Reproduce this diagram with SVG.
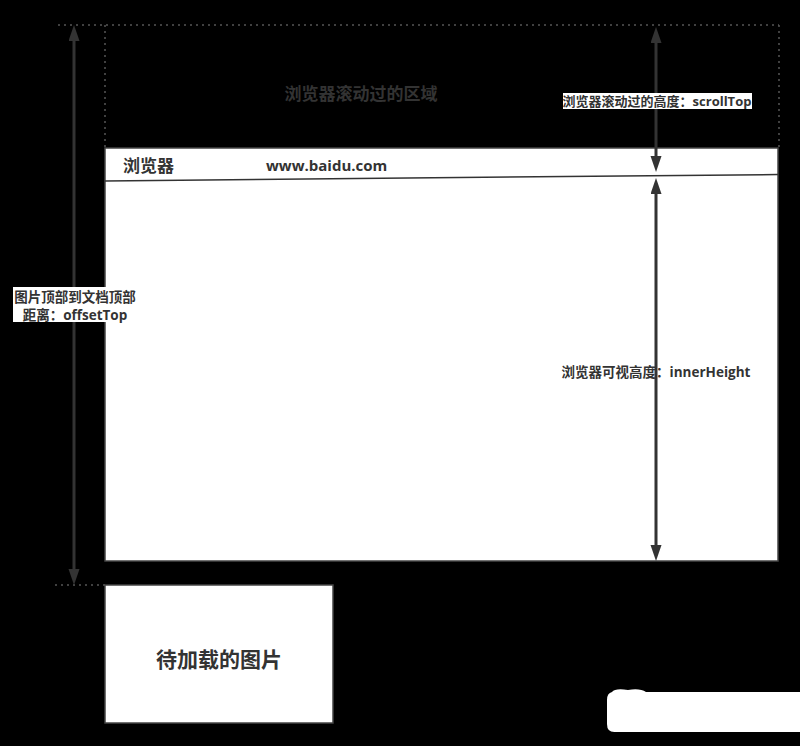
<svg xmlns="http://www.w3.org/2000/svg" width="800" height="746" viewBox="0 0 800 746">
<defs>
<style>
.t{font-family:"Open Sans","Noto Sans CJK SC",sans-serif;font-weight:bold;fill:#333}
.box{fill:#fff;stroke:#444;stroke-width:1.5}
.dot{fill:none;stroke:#555;stroke-width:1.5;stroke-dasharray:2 4}
.arr{stroke:#333;stroke-width:3;fill:none;marker-start:url(#ah);marker-end:url(#ah)}
</style>
<marker id="ah" markerUnits="userSpaceOnUse" markerWidth="18" markerHeight="12" refX="5" refY="5.5" orient="auto-start-reverse" viewBox="0 0 18 12">
<path d="M0,0 L16,5.5 L0,11 Z" fill="#333"/>
</marker>
</defs>
<rect width="800" height="746" fill="#000"/>
<g id="scrolled-area">
<path class="dot" d="M58,25 H779 M105,25 V148 M779,25 V148"/>
<text class="t" x="361" y="100" font-size="17" text-anchor="middle">浏览器滚动过的区域</text>
</g>
<g id="browser">
<rect class="box" x="105" y="148" width="673" height="413"/>
<line x1="105" y1="181" x2="778" y2="174.5" stroke="#333" stroke-width="1.5"/>
<text class="t" x="123" y="172" font-size="17">浏览器</text>
<text class="t" x="266" y="171" font-size="15">www.baidu.com</text>
</g>
<g id="image">
<rect class="box" x="105" y="585" width="228" height="138"/>
<text class="t" x="219" y="667" font-size="21" text-anchor="middle">待加载的图片</text>
</g>
<g id="connectors">
<path class="dot" d="M55,585 H105"/>
<line class="arr" x1="74" y1="36" x2="74" y2="574"/>
<line class="arr" x1="656" y1="38" x2="656" y2="161"/>
<line class="arr" x1="656" y1="189" x2="656" y2="550"/>
</g>
<g id="label-offsetTop">
<rect x="13" y="287" width="94" height="35" fill="#fff"/>
<text class="t" font-size="13.5" text-anchor="middle"><tspan x="75" y="302">图片顶部到文档顶部</tspan><tspan x="75" y="320">距离：offsetTop</tspan></text>
</g>
<g id="label-scrollTop">
<rect x="563" y="93" width="189" height="16" fill="#fff"/>
<text class="t" x="657" y="106" font-size="13" text-anchor="middle">浏览器滚动过的高度：scrollTop</text>
</g>
<g id="label-innerHeight">
<text class="t" x="656" y="377" font-size="13.5" text-anchor="middle">浏览器可视高度：innerHeight</text>
</g>
<path d="M612,692 Q615,688 628,690 Q640,688 646,692 H800 V732 H616 Q607,733 607,724 V700 Q607,693 612,692 Z" fill="#fff"/>
</svg>
